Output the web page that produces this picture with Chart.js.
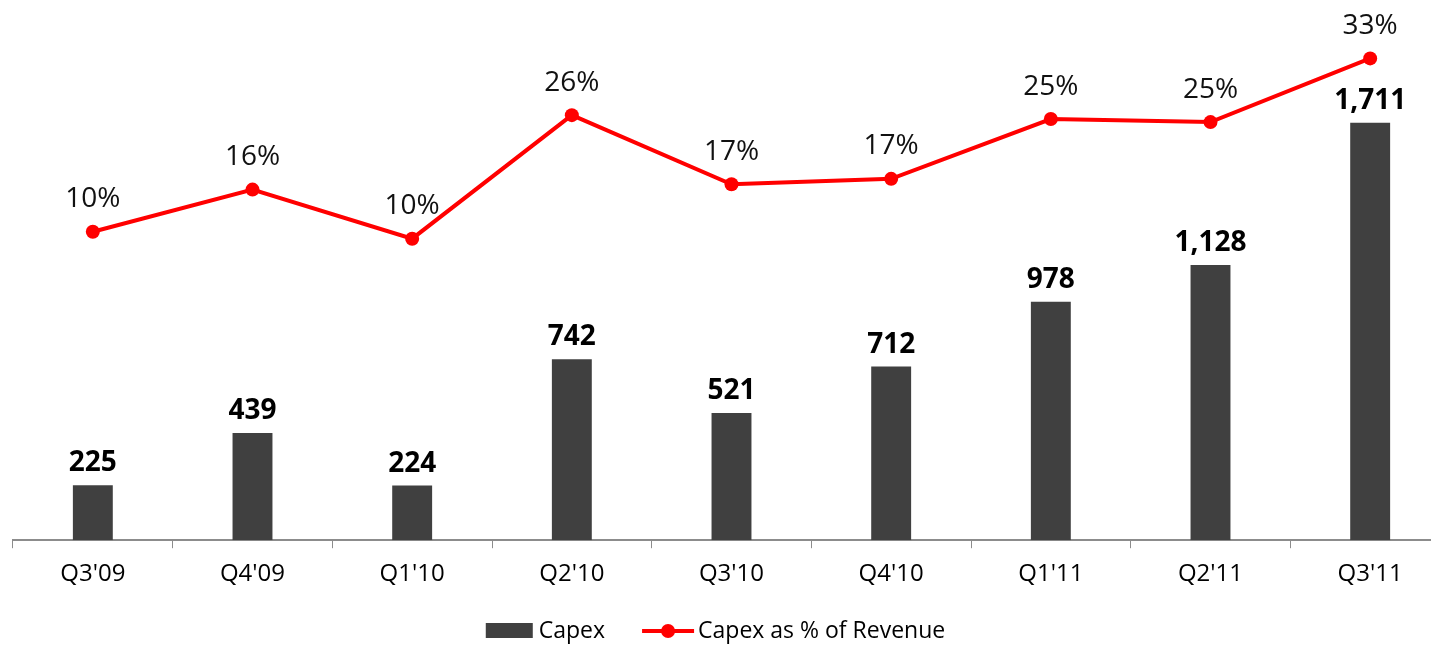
<!DOCTYPE html>
<html><head><meta charset="utf-8">
<script src="https://cdn.jsdelivr.net/npm/chart.js@4.4.0/dist/chart.umd.min.js"></script>
<style>html,body{margin:0;padding:0;overflow:hidden;background:#fff}
#wrap{position:relative;width:1462px;height:648px}</style>
</head><body><div id="wrap"><canvas id="c"></canvas></div>
<script>
const categories = ["Q3'09","Q4'09","Q1'10","Q2'10","Q3'10","Q4'10","Q1'11","Q2'11","Q3'11"];
const capex = [225, 439, 224, 742, 521, 712, 978, 1128, 1711];
const capexPct = [10.2, 15.7, 9.3, 25.4, 16.4, 17.1, 24.9, 24.5, 32.8];
const capexPctLabels = ["10%", "16%", "10%", "26%", "17%", "17%", "25%", "25%", "33%"];

const FONT = '"Open Sans", "DejaVu Sans", sans-serif';

const valueLabels = {
  id: 'valueLabels',
  afterDatasetsDraw(chart) {
    const ctx = chart.ctx;
    ctx.save();
    ctx.textAlign = 'center';
    ctx.textBaseline = 'alphabetic';
    const barMeta = chart.getDatasetMeta(0);
    ctx.font = 'bold 28px ' + FONT;
    ctx.fillStyle = '#000';
    barMeta.data.forEach((el, i) => {
      ctx.fillText(capex[i].toLocaleString('en-US'), el.x, el.y - 14);
    });
    const lineMeta = chart.getDatasetMeta(1);
    ctx.font = '28px ' + FONT;
    ctx.fillStyle = '#111';
    lineMeta.data.forEach((el, i) => {
      ctx.fillText(capexPctLabels[i], el.x, el.y - 24.5);
    });
    ctx.restore();
  }
};

const customLegend = {
  id: 'customLegend',
  afterDraw(chart) {
    const ctx = chart.ctx;
    const ds = chart.data.datasets;
    ctx.save();
    ctx.font = '23px ' + FONT;
    ctx.textBaseline = 'middle';
    ctx.textAlign = 'left';
    const w1 = ctx.measureText(ds[0].label).width;
    const w2 = ctx.measureText(ds[1].label).width;
    const total = 47 + 6 + w1 + 37 + 52 + 4 + w2;
    let x = window.innerWidth / 2 - total / 2;
    const y = chart.height - 17;
    ctx.fillStyle = ds[0].backgroundColor;
    ctx.fillRect(x, y - 8, 47, 15);
    x += 47 + 6;
    ctx.fillStyle = '#000';
    ctx.fillText(ds[0].label, x, y);
    x += w1 + 37;
    ctx.strokeStyle = ds[1].borderColor;
    ctx.lineWidth = 4;
    ctx.beginPath(); ctx.moveTo(x, y); ctx.lineTo(x + 52, y); ctx.stroke();
    ctx.fillStyle = ds[1].pointBackgroundColor;
    ctx.beginPath(); ctx.arc(x + 26, y, 7, 0, Math.PI * 2); ctx.fill();
    x += 52 + 4;
    ctx.fillStyle = '#000';
    ctx.fillText(ds[1].label, x, y);
    ctx.restore();
  }
};

new Chart(document.getElementById('c'), {
  data: {
    labels: categories,
    datasets: [
      {
        type: 'bar', label: 'Capex', data: capex, yAxisID: 'y',
        backgroundColor: '#404040', borderWidth: 0,
        barPercentage: 0.5, categoryPercentage: 0.5, order: 1
      },
      {
        type: 'line', label: 'Capex as % of Revenue', data: capexPct, yAxisID: 'y2',
        borderColor: '#ff0000', borderWidth: 4, pointRadius: 7,
        pointBackgroundColor: '#ff0000', pointBorderWidth: 0, tension: 0, order: 0
      }
    ]
  },
  options: {
    responsive: true, maintainAspectRatio: false, animation: false,
    layout: { padding: { top: 2, left: 13, right: 12, bottom: 47 } },
    plugins: { legend: { display: false }, tooltip: { enabled: false } },
    scales: {
      x: {
        type: 'category',
        grid: { display: true, drawOnChartArea: false, offset: true, tickLength: 8, color: '#8c8c8c', lineWidth: 1 },
        border: { display: true, color: '#8c8c8c', width: 2 },
        ticks: { font: { family: FONT, size: 24 }, color: '#000', padding: 12, maxRotation: 0 }
      },
      y: { display: false, min: 0, max: 2186 },
      y2: { display: false, min: -30, max: 39.5, position: 'right' }
    }
  },
  plugins: [valueLabels, customLegend]
});
</script>
</body></html>
